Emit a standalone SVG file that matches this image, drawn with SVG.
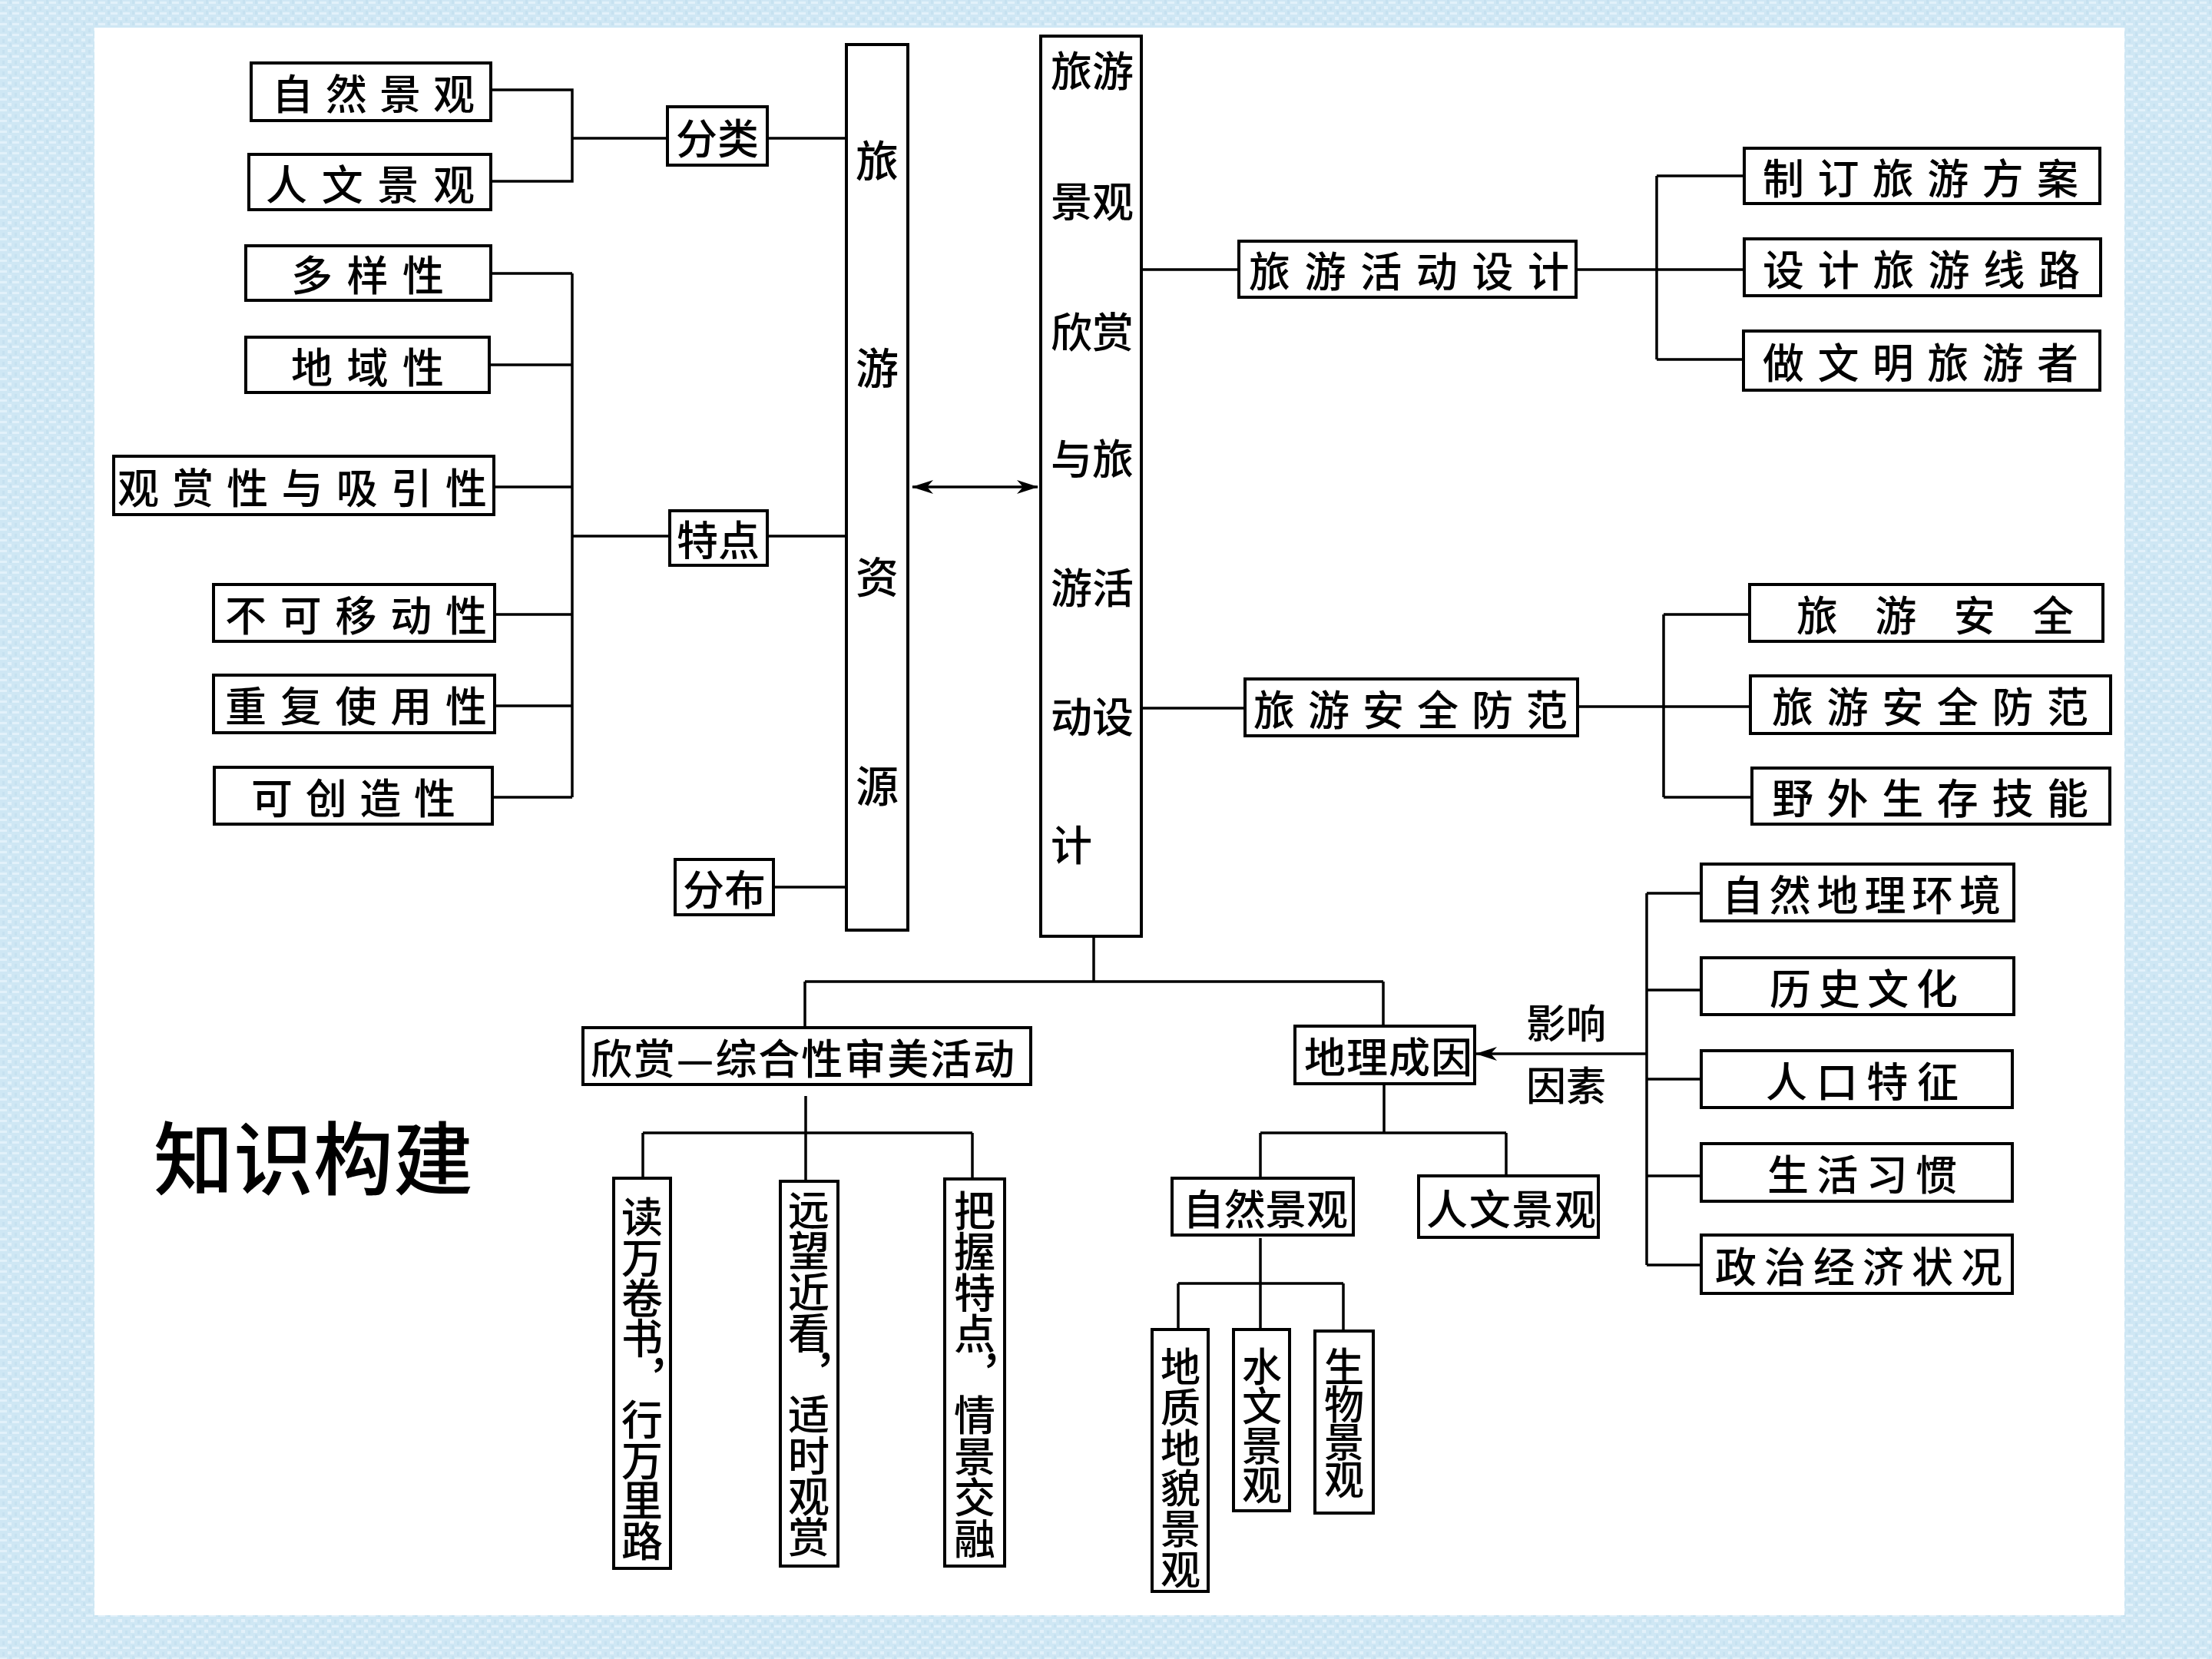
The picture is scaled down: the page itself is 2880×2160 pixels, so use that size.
<svg xmlns="http://www.w3.org/2000/svg" width="2880" height="2160" viewBox="0 0 2880 2160">
<defs>
<style>
.box{fill:#fff;stroke:#000;stroke-width:4}
.t{font-family:"Noto Sans CJK SC","Liberation Sans",sans-serif;font-size:54px;font-weight:500;fill:#000;dominant-baseline:central}
.m{text-anchor:middle}
.ln{fill:none;stroke:#000;stroke-width:3.5}
.title{font-family:"Noto Sans CJK SC","Liberation Sans",sans-serif;font-size:104px;font-weight:500;fill:#000;dominant-baseline:central}
</style>
<pattern id="bg" width="16" height="14" patternUnits="userSpaceOnUse">
<rect width="16" height="14" fill="#cfe7f4"/>
<rect x="0" y="2" width="9" height="3" fill="#e2f1fa"/>
<rect x="10" y="8" width="5" height="4" fill="#e2f1fa"/>
<rect x="3" y="9" width="3" height="5" fill="#c6e1f0"/>
<rect x="12" y="0" width="3" height="5" fill="#c6e1f0"/>
</pattern>
<marker id="ah" viewBox="0 0 28 18" refX="27" refY="9" markerWidth="28" markerHeight="18" markerUnits="userSpaceOnUse" orient="auto-start-reverse">
<path d="M0,0 L28,9 L0,18 L8,9 z" fill="#000"/>
</marker>
</defs>
<rect width="2880" height="2160" fill="url(#bg)"/>
<rect x="123" y="36" width="2643" height="2067" fill="#fff"/>

<text class="title" x="200" y="1502">知识构建</text>

<g id="connectors">
<path class="ln" d="M639,117 H745 V236 H639 M745,180 H869 M999,180 H1102"/>
<path class="ln" d="M639,356 H745 M637,475 H745 M643,634 H745 M644,800 H745 M644,919 H745 M641,1038 H745 M745,356 V1038 M745,698 H872 M999,698 H1102"/>
<path class="ln" d="M1007,1155 H1102"/>
<path class="ln" d="M1188,634 H1351" marker-start="url(#ah)" marker-end="url(#ah)"/>
<path class="ln" d="M1486,351 H1613 M2052,351 H2271 M2157,229 V468 M2157,229 H2271 M2157,468 H2270"/>
<path class="ln" d="M1486,922 H1621 M2054,920 H2279 M2166,800 V1038 M2166,800 H2278 M2166,1038 H2281"/>
<path class="ln" d="M1424,1219 V1278 M1048,1278 H1801 M1048,1278 V1338 M1801,1278 V1336"/>
<path class="ln" d="M1049,1427 V1538 M837,1475 H1266 M837,1475 V1534 M1266,1475 V1535"/>
<path class="ln" d="M1802,1411 V1475 M1641,1475 H1961 M1641,1475 V1534 M1961,1475 V1531"/>
<path class="ln" d="M1641,1612 V1731 M1534,1671 H1749 M1534,1671 V1731 M1749,1671 V1733"/>
<path class="ln" d="M2144,1163 V1647 M2144,1163 H2215 M2144,1289 H2215 M2144,1405 H2215 M2144,1531 H2215 M2144,1647 H2215"/>
<path class="ln" d="M2144,1372 H1922" marker-end="url(#ah)"/>
<text class="t m" x="2039" y="1329" style="font-size:52px">影响</text>
<text class="t m" x="2039" y="1410" style="font-size:52px">因素</text>
</g>

<g id="n-ziran"><rect class="box" x="327" y="82" width="312" height="75"/><text class="t" x="354" y="119.5" textLength="264" lengthAdjust="spacing">自然景观</text></g>
<g id="n-renwen"><rect class="box" x="324" y="201" width="315" height="72"/><text class="t" x="346" y="237" textLength="272" lengthAdjust="spacing">人文景观</text></g>
<g id="n-fenlei"><rect class="box" x="869" y="139" width="130" height="76"/><text class="t m" x="934" y="177">分类</text></g>
<g id="n-duoyang"><rect class="box" x="320" y="320" width="319" height="71"/><text class="t" x="379" y="355.5" textLength="199" lengthAdjust="spacing">多样性</text></g>
<g id="n-diyu"><rect class="box" x="320" y="439" width="317" height="72"/><text class="t" x="379" y="475" textLength="199" lengthAdjust="spacing">地域性</text></g>
<g id="n-guanshang"><rect class="box" x="148" y="594" width="495" height="76"/><text class="t" x="153" y="632" textLength="481" lengthAdjust="spacing">观赏性与吸引性</text></g>
<g id="n-tedian"><rect class="box" x="872" y="665" width="127" height="71"/><text class="t m" x="935" y="700">特点</text></g>
<g id="n-bukeyidong"><rect class="box" x="278" y="761" width="366" height="74"/><text class="t" x="293" y="798" textLength="341" lengthAdjust="spacing">不可移动性</text></g>
<g id="n-chongfu"><rect class="box" x="278" y="879" width="366" height="75"/><text class="t" x="293" y="916.5" textLength="341" lengthAdjust="spacing">重复使用性</text></g>
<g id="n-kechuangzao"><rect class="box" x="279" y="999" width="362" height="74"/><text class="t" x="327" y="1036" textLength="266" lengthAdjust="spacing">可创造性</text></g>
<g id="n-fenbu"><rect class="box" x="879" y="1119" width="128" height="72"/><text class="t m" x="943" y="1155">分布</text></g>

<g id="n-ziyuan"><rect class="box" x="1102" y="58" width="80" height="1153"/>
<text class="t m" x="1142" y="205" style="font-size:56px">旅</text>
<text class="t m" x="1142" y="475" style="font-size:56px">游</text>
<text class="t m" x="1142" y="747" style="font-size:56px">资</text>
<text class="t m" x="1142" y="1019" style="font-size:56px">源</text>
</g>

<g id="n-main"><rect class="box" x="1355" y="47" width="131" height="1172"/>
<text class="t" x="1368" y="89">旅游</text>
<text class="t" x="1368" y="259">景观</text>
<text class="t" x="1368" y="429">欣赏</text>
<text class="t" x="1368" y="594">与旅</text>
<text class="t" x="1368" y="762">游活</text>
<text class="t" x="1368" y="930">动设</text>
<text class="t" x="1368" y="1097">计</text>
</g>

<g id="n-huodong"><rect class="box" x="1613" y="314" width="439" height="73"/><text class="t" x="1626" y="350.5" textLength="417" lengthAdjust="spacing">旅游活动设计</text></g>
<g id="n-zhiding"><rect class="box" x="2271" y="193" width="463" height="72"/><text class="t" x="2295" y="229" textLength="411" lengthAdjust="spacing">制订旅游方案</text></g>
<g id="n-sheji"><rect class="box" x="2271" y="311" width="464" height="74"/><text class="t" x="2295" y="348" textLength="413" lengthAdjust="spacing">设计旅游线路</text></g>
<g id="n-zuowenming"><rect class="box" x="2270" y="431" width="464" height="77"/><text class="t" x="2295" y="469.5" textLength="411" lengthAdjust="spacing">做文明旅游者</text></g>

<g id="n-anquanfangfan"><rect class="box" x="1621" y="884" width="433" height="74"/><text class="t" x="1632" y="921" textLength="409" lengthAdjust="spacing">旅游安全防范</text></g>
<g id="n-lvyouanquan"><rect class="box" x="2278" y="761" width="460" height="74"/><text class="t" x="2339" y="798" textLength="361" lengthAdjust="spacing">旅游安全</text></g>
<g id="n-fangfan2"><rect class="box" x="2279" y="880" width="469" height="75"/><text class="t" x="2307" y="917.5" textLength="412" lengthAdjust="spacing">旅游安全防范</text></g>
<g id="n-yewai"><rect class="box" x="2281" y="1000" width="466" height="73"/><text class="t" x="2307" y="1036.5" textLength="412" lengthAdjust="spacing">野外生存技能</text></g>

<g id="n-xinshang"><rect class="box" x="759" y="1338" width="583" height="74"/><text class="t" x="769" y="1375" textLength="552" lengthAdjust="spacing">欣赏—综合性审美活动</text></g>
<g id="n-dili"><rect class="box" x="1686" y="1336" width="234" height="75"/><text class="t" x="1698" y="1373.5" textLength="219" lengthAdjust="spacing">地理成因</text></g>

<g id="n-zirandili"><rect class="box" x="2215" y="1125" width="407" height="74"/><text class="t" x="2242" y="1162" textLength="363" lengthAdjust="spacing">自然地理环境</text></g>
<g id="n-lishi"><rect class="box" x="2215" y="1247" width="407" height="74"/><text class="t" x="2304" y="1284" textLength="245" lengthAdjust="spacing">历史文化</text></g>
<g id="n-renkou"><rect class="box" x="2215" y="1368" width="405" height="74"/><text class="t" x="2299" y="1405" textLength="251" lengthAdjust="spacing">人口特征</text></g>
<g id="n-shenghuo"><rect class="box" x="2215" y="1489" width="405" height="75"/><text class="t" x="2301" y="1526.5" textLength="247" lengthAdjust="spacing">生活习惯</text></g>
<g id="n-zhengzhi"><rect class="box" x="2215" y="1608" width="405" height="76"/><text class="t" x="2233" y="1646" textLength="374" lengthAdjust="spacing">政治经济状况</text></g>

<g id="n-ziran2"><rect class="box" x="1526" y="1534" width="236" height="74"/><text class="t" x="1540" y="1571" textLength="215" lengthAdjust="spacing">自然景观</text></g>
<g id="n-renwen2"><rect class="box" x="1847" y="1531" width="234" height="80"/><text class="t" x="1857" y="1571" textLength="221" lengthAdjust="spacing">人文景观</text></g>

<g id="n-dizhi"><rect class="box" x="1500" y="1731" width="73" height="341"/><text class="t m" style="font-size:52px" x="1537 1537 1537 1537 1537 1537" y="1776 1829 1882 1934 1987 2040">地质地貌景观</text></g>
<g id="n-shuiwen"><rect class="box" x="1606" y="1731" width="73" height="236"/><text class="t m" style="font-size:52px" x="1643 1643 1643 1643" y="1776 1827 1879 1930">水文景观</text></g>
<g id="n-shengwu"><rect class="box" x="1712" y="1733" width="76" height="237"/><text class="t m" style="font-size:52px" x="1750 1750 1750 1750" y="1776 1825 1874 1923">生物景观</text></g>

<g id="n-du"><rect class="box" x="799" y="1534" width="74" height="508"/><text class="t m" x="836 836 836 836 871 836 836 836 836" y="1581 1634 1687 1739 1757 1845 1898 1950 2003">读万卷书，行万里路</text></g>
<g id="n-yuan"><rect class="box" x="1016" y="1538" width="75" height="501"/><text class="t m" x="1053 1053 1053 1053 1088 1053 1053 1053 1053" y="1572 1625 1679 1732 1750 1838 1892 1945 1998">远望近看，适时观赏</text></g>
<g id="n-ba"><rect class="box" x="1230" y="1535" width="78" height="504"/><text class="t m" x="1269 1269 1269 1269 1304 1269 1269 1269 1269" y="1573 1626 1680 1733 1751 1839 1893 1946 2000">把握特点，情景交融</text></g>
</svg>
